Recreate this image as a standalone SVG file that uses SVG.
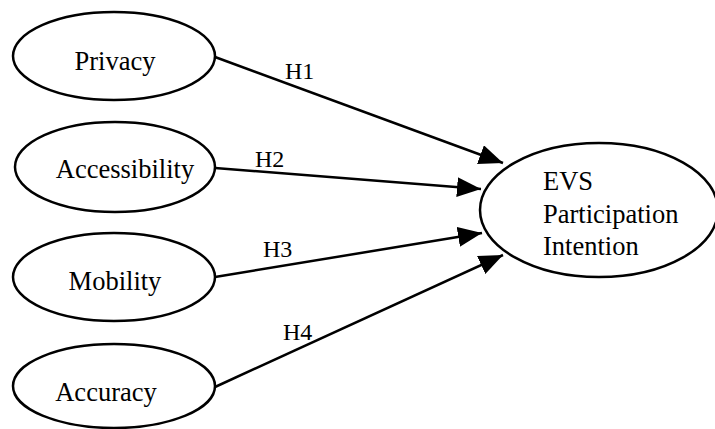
<svg xmlns="http://www.w3.org/2000/svg" width="715" height="429" viewBox="0 0 715 429">
<style>
.n{fill:#fff;stroke:#000;stroke-width:2.5}
.t{font-family:"Liberation Serif","Times New Roman",serif;font-size:26.5px;fill:#000}
.h{font-family:"Liberation Serif","Times New Roman",serif;font-size:24px;fill:#000}
.c{stroke:#000;stroke-width:2.5;fill:none;marker-end:url(#a)}
</style>
<defs>
<marker id="a" markerUnits="userSpaceOnUse" markerWidth="26" markerHeight="22" refX="24" refY="10" orient="auto">
<path d="M0,0 L24,10 L0,20 z" fill="#000"/>
</marker>
</defs>
<rect width="715" height="429" fill="#fff"/>
<g id="connectors">
<line class="c" x1="215" y1="57" x2="503" y2="163"/>
<line class="c" x1="215" y1="168" x2="481" y2="189"/>
<line class="c" x1="215" y1="277" x2="482" y2="233"/>
<line class="c" x1="215" y1="387" x2="503" y2="255"/>
<text class="h" x="285" y="79">H1</text>
<text class="h" x="255" y="167">H2</text>
<text class="h" x="263" y="257">H3</text>
<text class="h" x="283" y="340">H4</text>
</g>
<g id="privacy"><ellipse class="n" cx="114" cy="56" rx="101" ry="44"/><text class="t" x="115" y="70" text-anchor="middle">Privacy</text></g>
<g id="accessibility"><ellipse class="n" cx="115" cy="167" rx="100" ry="45"/><text class="t" x="125" y="178" text-anchor="middle">Accessibility</text></g>
<g id="mobility"><ellipse class="n" cx="114" cy="277" rx="101" ry="44"/><text class="t" x="115" y="290" text-anchor="middle">Mobility</text></g>
<g id="accuracy"><ellipse class="n" cx="114" cy="386" rx="101" ry="42"/><text class="t" x="106" y="401" text-anchor="middle">Accuracy</text></g>
<g id="evs"><ellipse class="n" cx="599" cy="210" rx="119" ry="67"/><text class="t" x="543" y="190">EVS</text><text class="t" x="543" y="223">Participation</text><text class="t" x="543" y="255">Intention</text></g>
</svg>
